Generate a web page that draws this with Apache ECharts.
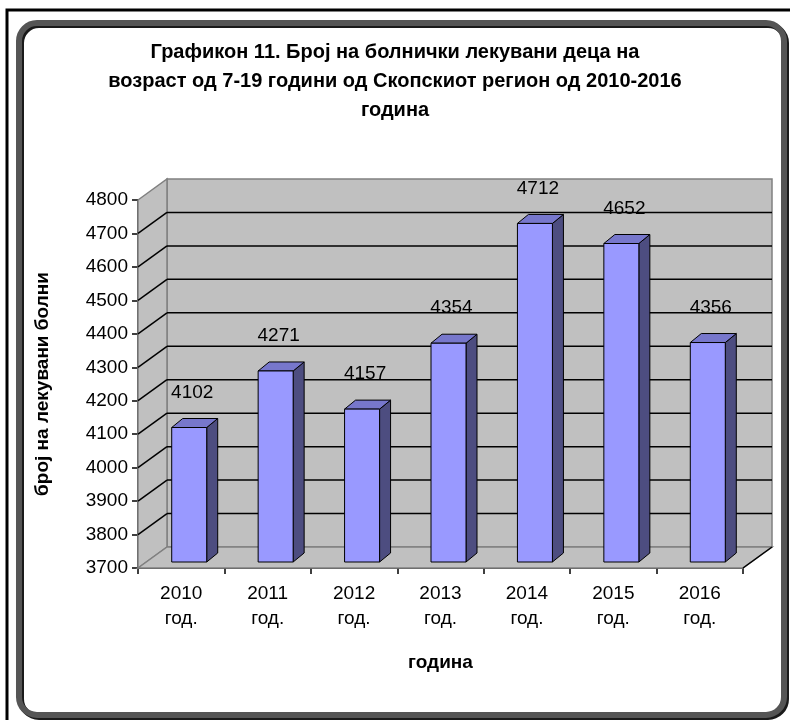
<!DOCTYPE html>
<html>
<head>
<meta charset="utf-8">
<script src="https://cdn.jsdelivr.net/npm/echarts@6/dist/echarts.min.js"></script>
<style>html,body{margin:0;padding:0;background:#fff}#c{width:790px;height:720px}</style>
</head>
<body>
<div id="c"></div>
<script>
var categories = ['2010\nгод.', '2011\nгод.', '2012\nгод.', '2013\nгод.', '2014\nгод.', '2015\nгод.', '2016\nгод.'];
var values = [4102, 4271, 4157, 4354, 4712, 4652, 4356];
var yTicks = [3700, 3800, 3900, 4000, 4100, 4200, 4300, 4400, 4500, 4600, 4700, 4800];
var titleText = 'Графикон 11. Број на болнички лекувани деца на\nвозраст од 7-19 години од Скопскиот регион од 2010-2016\nгодина';
var xName = 'година';
var yName = 'број на лекувани болни';

var FONT = 'Liberation Sans, Arial, sans-serif';
var WD = 29, WH = -21;      // wall depth offset
var BOX = 8, BOY = -6;      // bar front plane offset
var BW = 35, BDX = 11, BDY = -9; // bar width and depth
var yMin = yTicks[0], yMax = yTicks[yTicks.length - 1];

var chart = echarts.init(document.getElementById('c'), null, {renderer: 'canvas'});

function wallsRender(params, api) {
  var cs = params.coordSys;
  var L = cs.x, R = cs.x + cs.width, T = cs.y, B = cs.y + cs.height;
  var ch = [];
  var gray = '#808080';
  ch.push({type: 'rect', shape: {x: L + WD, y: T + WH, width: R - L, height: B - T}, style: {fill: '#c0c0c0', stroke: gray, lineWidth: 1.5}});
  ch.push({type: 'polygon', shape: {points: [[L, T], [L + WD, T + WH], [L + WD, B + WH], [L, B]]}, style: {fill: '#c0c0c0', stroke: gray, lineWidth: 1.5}});
  ch.push({type: 'polygon', shape: {points: [[L, B], [L + WD, B + WH], [R + WD, B + WH], [R, B]]}, style: {fill: '#c0c0c0', stroke: gray, lineWidth: 1.5}});
  ch.push({type: 'line', shape: {x1: R, y1: B, x2: R + WD, y2: B + WH}, style: {stroke: '#000', lineWidth: 1.5}});
  for (var i = 0; i < yTicks.length; i++) {
    var v = yTicks[i];
    if (v === yMin || v === yMax) continue;
    var y = api.coord([0, v])[1];
    ch.push({type: 'line', shape: {x1: L + WD, y1: y + WH, x2: R + WD, y2: y + WH}, style: {stroke: '#000', lineWidth: 1.5}});
    ch.push({type: 'line', shape: {x1: L, y1: y, x2: L + WD, y2: y + WH}, style: {stroke: '#000', lineWidth: 1.5}});
  }
  return {type: 'group', children: ch};
}

function barRender(params, api) {
  var idx = api.value(0), val = api.value(1);
  var p0 = api.coord([idx, yMin]);
  var p1 = api.coord([idx, val]);
  var x0 = p0[0] - BW / 2 + BOX;
  var top = p1[1] + BOY, bot = p0[1] + BOY;
  var x1 = x0 + BW;
  return {type: 'group', children: [
    {type: 'polygon', shape: {points: [[x1, top], [x1 + BDX, top + BDY], [x1 + BDX, bot + BDY], [x1, bot]]}, style: {fill: '#4d4d80', stroke: '#000', lineWidth: 1}},
    {type: 'polygon', shape: {points: [[x0, top], [x0 + BDX, top + BDY], [x1 + BDX, top + BDY], [x1, top]]}, style: {fill: '#7777cc', stroke: '#000', lineWidth: 1}},
    {type: 'rect', shape: {x: x0, y: top, width: BW, height: bot - top}, style: {fill: '#9999ff', stroke: '#000', lineWidth: 1}},
    {type: 'text', x: x0 + BW / 2 + 3, y: top - 35, style: {text: String(val), fill: '#000', font: '19px ' + FONT, textAlign: 'center', textVerticalAlign: 'middle'}}
  ]};
}

var option = {
  animation: false,
  backgroundColor: '#fff',
  grid: {left: 138, right: 47, top: 200, bottom: 152},
  xAxis: {
    type: 'category', data: categories,
    axisLine: {lineStyle: {color: '#000', width: 1.5}},
    axisTick: {show: true, length: 6, lineStyle: {color: '#000', width: 1.5}},
    axisLabel: {color: '#000', fontFamily: FONT, fontSize: 19, lineHeight: 25, margin: 13},
    name: xName, nameLocation: 'middle', nameGap: 85,
    nameTextStyle: {fontFamily: FONT, fontWeight: 'bold', fontSize: 19, color: '#000'}
  },
  yAxis: {
    type: 'value', min: yMin, max: yMax, interval: 100,
    axisLine: {show: true, lineStyle: {color: '#000', width: 1.5}},
    axisTick: {show: true, length: 6, lineStyle: {color: '#000', width: 1.5}},
    axisLabel: {color: '#000', fontFamily: FONT, fontSize: 19, margin: 10, formatter: function (v) { return String(v); }},
    splitLine: {show: false},
    name: yName, nameLocation: 'middle', nameGap: 86, nameRotate: 90,
    nameTextStyle: {fontFamily: FONT, fontWeight: 'bold', fontSize: 19, color: '#000'}
  },
  graphic: [
    {type: 'text', x: 395, y: 38, style: {text: titleText, font: 'bold 20px ' + FONT, lineHeight: 29, textAlign: 'center', fill: '#000'}, z: 100},
    {type: 'polyline', shape: {points: [[7, 720], [7, 10], [790, 10]]}, style: {stroke: '#000', lineWidth: 3, fill: null}, z: 100},
    {type: 'rect', shape: {x: 21, y: 25, width: 765, height: 692, r: 18}, style: {fill: null, stroke: '#1a1a1a', lineWidth: 6}, z: 100},
    {type: 'rect', shape: {x: 19, y: 23, width: 765, height: 692, r: 18}, style: {fill: null, stroke: '#555', lineWidth: 6}, z: 101}
  ],
  series: [
    {type: 'custom', renderItem: wallsRender, data: [[0, yMin]], z: 1, silent: true, clip: false},
    {type: 'custom', renderItem: barRender, data: values.map(function (v, i) { return [i, v]; }), z: 3, clip: false}
  ]
};
chart.setOption(option);
</script>
</body>
</html>
